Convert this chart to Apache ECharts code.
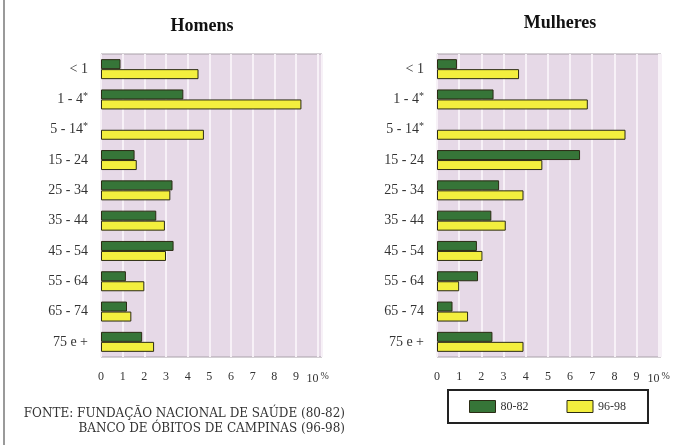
<!DOCTYPE html>
<html>
<head>
<meta charset="utf-8">
<script src="https://cdn.jsdelivr.net/npm/echarts@6/dist/echarts.min.js"></script>
<style>
  html, body { margin: 0; padding: 0; background: #ffffff; }
  #chart { width: 699px; height: 445px; }
</style>
</head>
<body>
<div id="chart"></div>
<script>
// Age groups (top to bottom)
const ageGroups = ['< 1', '1 - 4*', '5 - 14*', '15 - 24', '25 - 34', '35 - 44', '45 - 54', '55 - 64', '65 - 74', '75 e +'];
const periods = ['80-82', '96-98'];

// Share of deaths (%) by age group
const homens8082   = [0.9, 3.8, 0, 1.55, 3.3, 2.55, 3.35, 1.15, 1.2, 1.9];
const homens9698   = [4.5, 9.25, 4.75, 1.65, 3.2, 2.95, 3.0, 2.0, 1.4, 2.45];
const mulheres8082 = [0.9, 2.55, 0, 6.45, 2.8, 2.45, 1.8, 1.85, 0.7, 2.5];
const mulheres9698 = [3.7, 6.8, 8.5, 4.75, 3.9, 3.1, 2.05, 1.0, 1.4, 3.9];

const panelTitles = ['Homens', 'Mulheres'];
const sourceLines = ['FONTE: FUNDAÇÃO NACIONAL DE SAÚDE (80-82)', 'BANCO DE ÓBITOS DE CAMPINAS (96-98)'];

const GREEN = '#367538';
const YELLOW = '#f3ef3e';
const SERIF = '"Liberation Serif", "DejaVu Serif", serif';
const WIDE_SERIF = '"DejaVu Serif", "Liberation Serif", serif';

const chart = echarts.init(document.getElementById('chart'), null, { renderer: 'canvas' });

function xAxisFor(gridIndex, max) {
  return {
    type: 'value', gridIndex, min: 0, max, interval: 1,
    axisLine: { show: false }, axisTick: { show: false },
    splitLine: { show: true, lineStyle: { color: '#f7f1f7', width: 2 } },
    axisLabel: {
      showMaxLabel: false, margin: 14, color: '#333', fontFamily: SERIF, fontSize: 12,
      formatter: v => v === 10 ? '{n|10}{p|%}' : (Number.isInteger(v) ? String(v) : ''),
      rich: { n: { fontFamily: SERIF, fontSize: 12, color: '#333' },
              p: { fontFamily: SERIF, fontSize: 10, color: '#333', padding: [0, 0, 6, 2] } }
    }
  };
}

function yAxisFor(gridIndex) {
  return {
    type: 'category', gridIndex, data: ageGroups, inverse: true,
    axisLine: { show: false }, axisTick: { show: false }, splitLine: { show: false },
    axisLabel: {
      margin: 13, color: '#333', fontFamily: SERIF, fontSize: 14,
      formatter: v => v.endsWith('*') ? v.slice(0, -1) + '{s|*}' : v,
      rich: { s: { fontFamily: SERIF, fontSize: 10, color: '#333', padding: [0, 0, 7, 0] } }
    }
  };
}

function barSeries(name, values, idx) {
  // an empty value leaves no outline on the axis
  const data = values.map(v => v === 0 ? { value: v, itemStyle: { borderWidth: 0 } } : v);
  return {
    type: 'bar', name, data, xAxisIndex: idx, yAxisIndex: idx,
    barWidth: 10, barGap: '0%',
    itemStyle: { color: name === periods[0] ? GREEN : YELLOW, borderColor: '#2b2b14', borderWidth: 1 }
  };
}

const option = {
  animation: false,
  backgroundColor: '#ffffff',
  grid: [
    { left: 101, right: 377, top: 54, bottom: 88, show: true, backgroundColor: '#e6d9e7', borderColor: '#a8a0a8', borderWidth: 1 },
    { left: 437, right: 38, top: 54, bottom: 88, show: true, backgroundColor: '#e6d9e7', borderColor: '#a8a0a8', borderWidth: 1 }
  ],
  xAxis: [xAxisFor(0, 10.2), xAxisFor(1, 10.1)],
  yAxis: [yAxisFor(0), yAxisFor(1)],
  legend: {
    data: periods, left: 448, top: 390, orient: 'horizontal', icon: 'rect',
    padding: [10, 22, 10, 21], itemGap: 38, itemWidth: 26, itemHeight: 12,
    borderColor: '#222', borderWidth: 2,
    textStyle: { fontFamily: SERIF, fontSize: 12, color: '#333' },
    itemStyle: { borderColor: '#2b2b14', borderWidth: 1 }
  },
  series: [
    barSeries(periods[0], homens8082, 0),
    barSeries(periods[1], homens9698, 0),
    barSeries(periods[0], mulheres8082, 1),
    barSeries(periods[1], mulheres9698, 1)
  ],
  graphic: [
    { type: 'line', shape: { x1: 4, y1: 0, x2: 4, y2: 445 }, style: { stroke: '#9a9a9a', lineWidth: 2 } },
    { type: 'text', x: 202, y: 17, style: { text: panelTitles[0], fill: '#111', font: 'bold 18px ' + SERIF, textAlign: 'center' } },
    { type: 'text', x: 560, y: 14, style: { text: panelTitles[1], fill: '#111', font: 'bold 18px ' + SERIF, textAlign: 'center' } },
    { type: 'text', x: 345, y: 408, style: { text: sourceLines[0], fill: '#333', font: '12px ' + WIDE_SERIF, textAlign: 'right' } },
    { type: 'text', x: 345, y: 423, style: { text: sourceLines[1], fill: '#333', font: '12px ' + WIDE_SERIF, textAlign: 'right' } }
  ]
};

chart.setOption(option);
</script>
</body>
</html>
